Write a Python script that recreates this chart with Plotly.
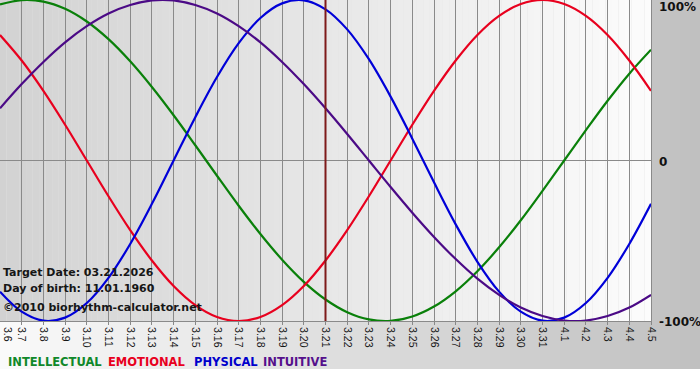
import plotly.graph_objects as go

# ---- data ----
days = ["3.6", "3.7", "3.8", "3.9", "3.10", "3.11", "3.12", "3.13", "3.14", "3.15",
        "3.16", "3.17", "3.18", "3.19", "3.20", "3.21", "3.22", "3.23", "3.24", "3.25",
        "3.26", "3.27", "3.28", "3.29", "3.30", "3.31", "4.1", "4.2", "4.3", "4.4", "4.5"]

intellectual = [0.972, 0.999, 0.990, 0.945, 0.866, 0.756, 0.618, 0.458, 0.282, 0.095,
                -0.095, -0.282, -0.458, -0.618, -0.756, -0.866, -0.945, -0.990, -0.999, -0.972,
                -0.910, -0.815, -0.690, -0.541, -0.372, -0.189, 0.0, 0.189, 0.372, 0.541, 0.690]

emotional = [0.782, 0.623, 0.434, 0.223, 0.0, -0.223, -0.434, -0.623, -0.782, -0.901,
             -0.975, -1.0, -0.975, -0.901, -0.782, -0.623, -0.434, -0.223, 0.0, 0.223,
             0.434, 0.623, 0.782, 0.901, 0.975, 1.0, 0.975, 0.901, 0.782, 0.623, 0.434]

physical = [-0.817, -0.942, -0.998, -0.979, -0.888, -0.731, -0.520, -0.270, 0.0, 0.270,
            0.520, 0.731, 0.888, 0.979, 0.998, 0.942, 0.817, 0.631, 0.398, 0.136,
            -0.136, -0.398, -0.631, -0.817, -0.942, -0.998, -0.979, -0.888, -0.731, -0.520, -0.270]

intuitive = [0.325, 0.476, 0.614, 0.736, 0.837, 0.916, 0.969, 0.997, 0.997, 0.969,
             0.916, 0.837, 0.736, 0.614, 0.476, 0.325, 0.165, 0.0, -0.165, -0.325,
             -0.476, -0.614, -0.736, -0.837, -0.916, -0.969, -0.997, -0.997, -0.969, -0.916, -0.837]

series_names = ["INTELLECTUAL", "EMOTIONAL", "PHYSICAL", "INTUITIVE"]
series_values = [intellectual, emotional, physical, intuitive]
line_colors = ["#0a800a", "#e8001e", "#0000d8", "#4b0a86"]
legend_colors = ["#10882a", "#e8001e", "#0000cc", "#55108c"]

target_day = "3.21"
info_lines = ["Target Date: 03.21.2026", "Day of birth: 11.01.1960", "\u00a92010 biorhythm-calculator.net"]
y_labels = ["100%", "0", "-100%"]
y_label_vals = [1, 0, -1]

# ---- geometry (pixels) ----
W, H = 700, 380
PW, PH = 651, 321          # plot area size
ML, MT = 0, 0


def px_x(px):
    return (px - ML) / PW


def px_y(py):
    return (MT + PH - py) / PH


TICKFONT = dict(family="Liberation Sans", size=10.5, color="#151515")

fig = go.Figure()
xidx = list(range(len(days)))
for name, vals, col in zip(series_names, series_values, line_colors):
    fig.add_trace(go.Scatter(x=xidx, y=vals, mode="lines", name=name,
                             line=dict(color=col, width=2.2, shape="spline", smoothing=1),
                             hoverinfo="skip"))

shapes = []
# outer gradient background (paper)
n_out = 70
for j in range(n_out):
    s = int(round(250 - 58 * (j + 0.5) / n_out))
    shapes.append(dict(type="rect", xref="paper", yref="paper",
                       x0=px_x(10 * j), x1=px_x(10 * (j + 1) + 1),
                       y0=px_y(369), y1=px_y(0),
                       fillcolor=f"rgb({s},{s},{s})", line=dict(width=0), layer="below"))
# plot area gradient
n_in = 100
nmax = len(days) - 1
for k in range(n_in):
    s = int(round(210 + 42 * (k + 0.5) / n_in))
    shapes.append(dict(type="rect", xref="x", yref="y",
                       x0=nmax * k / n_in, x1=nmax * (k + 1) / n_in + 0.01,
                       y0=-1, y1=1,
                       fillcolor=f"rgb({s},{s},{s})", line=dict(width=0), layer="below"))
# target day marker
ti = days.index(target_day)
shapes.append(dict(type="line", xref="x", yref="y", x0=ti, x1=ti, y0=-1, y1=1,
                   line=dict(color="#7e1a1a", width=2), layer="above"))

annotations = []
# first day label (at the very left edge; kept just inside the page)
annotations.append(dict(text=days[0], xref="paper", yref="paper", x=px_x(0.5), y=px_y(325),
                        xanchor="left", yanchor="top", textangle=90, showarrow=False,
                        font=TICKFONT))
# y labels on the right
for lab, v, py in zip(y_labels, y_label_vals, [7, 162, 322]):
    annotations.append(dict(text=f"<b>{lab}</b>", xref="paper", yref="paper",
                            x=px_x(657), y=px_y(py), xanchor="left", yanchor="middle",
                            showarrow=False, font=dict(family="DejaVu Sans", size=12, color="#111111")))
# info text lower left
for line, py in zip(info_lines, [272, 288, 307]):
    annotations.append(dict(text=f"<b>{line}</b>", xref="paper", yref="paper",
                            x=px_x(1), y=px_y(py), xanchor="left", yanchor="middle",
                            showarrow=False, font=dict(family="DejaVu Sans", size=11, color="#161616")))
# legend texts
for name, col, px in zip(series_names, legend_colors, [6, 106, 192, 261]):
    annotations.append(dict(text=f"<b>{name}</b>", xref="paper", yref="paper",
                            x=px_x(px), y=px_y(361.5), xanchor="left", yanchor="middle",
                            showarrow=False, font=dict(family="DejaVu Sans", size=11.5, color=col)))

fig.update_layout(
    width=W, height=H, autosize=False,
    margin=dict(l=ML, r=W - PW - ML, t=MT, b=H - PH - MT, pad=0),
    paper_bgcolor="white", plot_bgcolor="rgba(0,0,0,0)",
    showlegend=False,
    shapes=shapes, annotations=annotations,
    xaxis=dict(range=[0, nmax], tickmode="array", tickvals=xidx[1:], ticktext=days[1:],
               tickangle=90, tickfont=TICKFONT,
               ticks="outside", ticklen=3, tickcolor="#888888",
               showgrid=True, gridcolor="#8a8a8a", gridwidth=1,
               zeroline=False, showline=True, linecolor="#8a8a8a", linewidth=1, mirror=True,
               fixedrange=True),
    yaxis=dict(range=[-1, 1], tickmode="array", tickvals=y_label_vals, showticklabels=False,
               ticks="", showgrid=True, gridcolor="#8a8a8a", gridwidth=1,
               zeroline=False, showline=True, linecolor="#8a8a8a", linewidth=1, mirror=True,
               fixedrange=True),
)

fig.write_html("out.html")
